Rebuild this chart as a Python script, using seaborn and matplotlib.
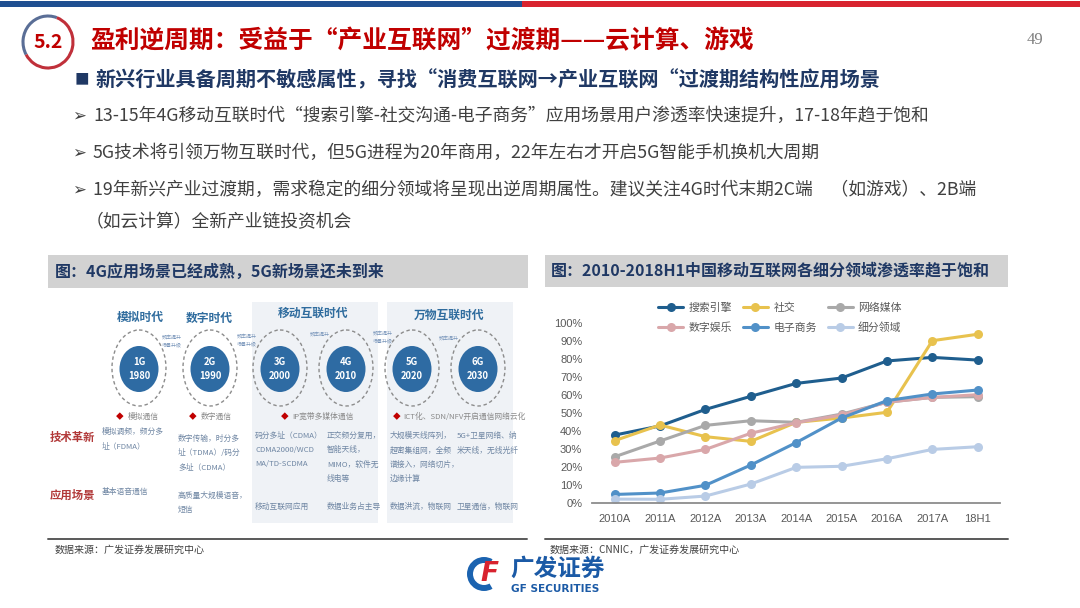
import numpy as np
import pandas as pd
import seaborn as sns
import matplotlib.pyplot as plt
from matplotlib.patches import Rectangle, Ellipse, Arc, Wedge
from matplotlib.lines import Line2D

# ---- right chart data (penetration rate, %) ----
years = ["2010A", "2011A", "2012A", "2013A", "2014A", "2015A", "2016A", "2017A", "18H1"]
search_engine = [37.7, 42.8, 52.0, 59.3, 66.5, 69.5, 79.0, 81.0, 79.5]
social = [34.6, 43.3, 36.8, 34.2, 44.8, 47.2, 50.4, 90.3, 93.9]
net_media = [25.6, 34.4, 43.1, 45.7, 44.8, 49.4, 56.0, 58.7, 59.1]
digital_ent = [22.5, 24.9, 29.7, 38.7, 44.6, 48.9, 56.0, 58.7, 60.2]
e_commerce = [4.6, 5.4, 9.7, 21.0, 33.5, 47.2, 56.9, 60.6, 62.8]
niche = [2.0, 1.9, 3.7, 10.4, 19.7, 20.3, 24.5, 29.7, 31.2]
series_names = ["搜索引擎", "社交", "网络媒体", "数字娱乐", "电子商务", "细分领域"]
series_colors = ["#1F5E8E", "#E8C24E", "#A9A9A9", "#D9A7AA", "#5191C8", "#B9CCE6"]

# ---- left diagram text ----
generations = ["1G", "2G", "3G", "4G", "5G", "6G"]
gen_years = ["1980", "1990", "2000", "2010", "2020", "2030"]
eras = ["模拟时代", "数字时代", "移动互联时代", "万物互联时代"]
comm_types = ["模拟通信", "数字通信", "IP宽带多媒体通信", "ICT化、SDN/NFV开启通信网络云化"]
tech_text = ["模拟调频，频分多\n址（FDMA）",
             "数字传输，时分多\n址（TDMA）/码分\n多址（CDMA）",
             "码分多址（CDMA）\nCDMA2000/WCD\nMA/TD-SCDMA",
             "正交频分复用，\n智能天线，\nMIMO，软件无\n线电等",
             "大规模天线阵列，\n超密集组网，全频\n谱接入，网络切片，\n边缘计算",
             "5G+卫星网络、纳\n米天线，无线光纤"]
app_text = ["基本语音通信", "高质量大规模语音，\n短信", "移动互联网应用",
            "数据业务占主导", "数据洪流，物联网", "卫星通信，物联网"]
bullets = ["13-15年4G移动互联时代“搜索引擎-社交沟通-电子商务”应用场景用户渗透率快速提升，17-18年趋于饱和",
           "5G技术将引领万物互联时代，但5G进程为20年商用，22年左右才开启5G智能手机换机大周期",
           "19年新兴产业过渡期，需求稳定的细分领域将呈现出逆周期属性。建议关注4G时代末期2C端　（如游戏）、2B端"]

sns.set_theme(style="white")
plt.rcParams['font.family'] = ['Noto Sans CJK SC', 'DejaVu Sans']

W, H = 1080, 608
fig = plt.figure(figsize=(10.8, 6.08), dpi=100)
bg = fig.add_axes([0, 0, 1, 1])
bg.set_xlim(0, W)
bg.set_ylim(H, 0)
bg.axis("off")

DARK = "#1F3864"
RED = "#C00000"

# top bar
bg.add_patch(Rectangle((0, 1), 522, 6, color="#1F4F91", lw=0))
bg.add_patch(Rectangle((522, 1), 558, 6, color="#D8232F", lw=0))

# section badge
bg.add_patch(Arc((48, 42), 50, 52, theta1=150, theta2=290, color="#5A6E96", lw=2.2))
bg.add_patch(Arc((48, 42), 50, 52, theta1=290, theta2=510, color="#C0303A", lw=2.2))
bg.text(48, 43, "5.2", color=RED, fontsize=14, fontweight="bold", ha="center", va="center")
bg.text(90, 41, "盈利逆周期：受益于“产业互联网”过渡期——云计算、游戏", color=RED,
        fontsize=17.8, fontweight="bold", va="center")
bg.text(1035, 40, "49", color="#7F7F7F", fontsize=12, family="Liberation Serif",
        ha="center", va="center")

# headline bullet
bg.text(75, 80, "■", color=DARK, fontsize=10.5, va="center")
bg.text(95, 80, "新兴行业具备周期不敏感属性，寻找“消费互联网→产业互联网“过渡期结构性应用场景",
        color=DARK, fontsize=14.5, fontweight="bold", va="center")

for txt, y in zip(bullets, [116, 153, 190]):
    bg.text(72, y, "➢", color="#404040", fontsize=12, family=["DejaVu Sans"], va="center")
    bg.text(93, y, txt, color="#404040", fontsize=12.8, va="center")
bg.text(86, 222, "（如云计算）全新产业链投资机会", color="#404040", fontsize=12.8, va="center")

# panel headers
bg.add_patch(Rectangle((48, 255), 480, 33, color="#D2D2D2", lw=0))
bg.text(55, 271.5, "图：4G应用场景已经成熟，5G新场景还未到来", color=DARK,
        fontsize=11.5, fontweight="bold", va="center")
bg.add_patch(Rectangle((545, 255), 463, 32, color="#D2D2D2", lw=0))
bg.text(551, 271, "图：2010-2018H1中国移动互联网各细分领域渗透率趋于饱和", color=DARK,
        fontsize=11.5, fontweight="bold", va="center")

# bottom rules + sources
bg.plot([48, 527], [539, 539], color="#595959", lw=1.4)
bg.plot([545, 1008], [539, 539], color="#595959", lw=1.4)
bg.text(55, 550, "数据来源：广发证券发展研究中心", color="#404040", fontsize=7.2, va="center")
bg.text(550, 550, "数据来源：CNNIC，广发证券发展研究中心", color="#404040", fontsize=7.2, va="center")

# logo
bg.add_patch(Wedge((484, 574), 17, 60, 300, width=6, color="#1B63B0", lw=0))
bg.text(489, 574, "F", color="#D8232F", fontsize=19, fontweight="bold", style="italic",
        ha="center", va="center", family="DejaVu Sans")
bg.text(510, 569, "广发证券", color="#1B5AA6", fontsize=17, fontweight="bold", va="center")
bg.text(511, 589, "GF SECURITIES", color="#1B5AA6", fontsize=7.6, fontweight="bold",
        va="center", family="DejaVu Sans")

# ---- left diagram ----
BLUE_TXT = "#2F6C9E"
GRAY_TXT = "#6F86A3"
bg.add_patch(Rectangle((252, 302), 126, 221, color="#EFF2F6", lw=0))
bg.add_patch(Rectangle((387, 302), 126, 221, color="#EFF2F6", lw=0))

circle_x = [139, 210, 280, 346, 412, 478]
for cx, g, yr in zip(circle_x, generations, gen_years):
    bg.add_patch(Ellipse((cx, 368), 54, 76, fill=False, ec="#8C8C8C", lw=1.0, ls=(0, (2.5, 2))))
    bg.add_patch(Ellipse((cx, 369), 39, 46, color="#2E6BA3", lw=0))
    bg.text(cx, 362, g, color="white", fontsize=6.8, fontweight="bold", ha="center", va="center")
    bg.text(cx, 376, yr, color="white", fontsize=6.8, fontweight="bold", ha="center", va="center")

for (ex, ey), era in zip([(140, 317), (209, 318), (313, 313), (449, 315)], eras):
    bg.text(ex, ey, era, color=BLUE_TXT, fontsize=8.5, fontweight="bold", ha="center", va="center")

for cx, cy, t in [(172, 341, "频率提升\n场景升级"), (247, 340, "频率提升\n场景升级"),
                  (320, 334, "频率提升"), (383, 337, "频率提升\n场景升级"), (449, 338, "频率提升")]:
    bg.text(cx, cy, t, color="#7895BA", fontsize=3.6, ha="center", va="center", linespacing=1.5)

for (dx, tx), t in zip([(120, 128), (193, 201), (285, 292), (397, 403)], comm_types):
    bg.text(dx, 417, "◆", color=RED, fontsize=5.5, ha="center", va="center")
    bg.text(tx, 417, t, color="#8A8A8A", fontsize=5.6, va="center")

bg.text(50, 437, "技术革新", color="#B23A3A", fontsize=8.2, fontweight="bold", va="center")
bg.text(50, 495, "应用场景", color="#B23A3A", fontsize=8.2, fontweight="bold", va="center")

col_x = [102, 178, 255, 327, 390, 457]
tech_top = [428, 435, 432, 432, 432, 432]
for x, top, t in zip(col_x, tech_top, tech_text):
    bg.text(x, top, t, color=GRAY_TXT, fontsize=5.6, va="top", linespacing=2.0)
app_top = [488, 492, 503, 503, 503, 503]
for x, top, t in zip(col_x, app_top, app_text):
    bg.text(x, top, t, color=GRAY_TXT, fontsize=5.6, va="top", linespacing=2.0)

# ---- right chart ----
df = pd.DataFrame({"year": years * 6,
                   "value": search_engine + social + net_media + digital_ent + e_commerce + niche,
                   "series": sum([[n] * len(years) for n in series_names], [])})

ax = fig.add_axes([592 / W, 1 - 502.7 / H, 408.4 / W, 179.4 / H])
ax.patch.set_alpha(0)
sns.lineplot(data=df, x="year", y="value", hue="series", hue_order=series_names,
             palette=series_colors, marker="o", markersize=6.5, markeredgewidth=0,
             linewidth=2.2, sort=False, legend=False, ax=ax)
ax.set_xlim(-0.5, 8.5)
ax.set_ylim(0, 100)
ax.set_yticks(np.arange(0, 101, 10))
ax.set_yticklabels([f"{v}%" for v in range(0, 101, 10)])
ax.set_xticks(range(len(years)))
ax.set_xticklabels(years)
ax.set_xticks(np.arange(-0.5, 9, 1), minor=True)
ax.set_xlabel("")
ax.set_ylabel("")
for s in ["left", "top", "right"]:
    ax.spines[s].set_visible(False)
ax.spines["bottom"].set_color("#8C8C8C")
ax.spines["bottom"].set_linewidth(1.3)
ax.tick_params(axis="y", length=0, pad=7, labelsize=8, labelcolor="#595959")
ax.tick_params(axis="x", which="major", length=0, pad=8, labelsize=8, labelcolor="#595959")
ax.tick_params(axis="x", which="minor", length=4, width=1, color="#8C8C8C", direction="out")
for lab in ax.get_xticklabels() + ax.get_yticklabels():
    lab.set_family("Liberation Sans")
ax.grid(False)

handles = [Line2D([0], [0], color=c, lw=2.2, marker="o", markersize=6.5, markeredgewidth=0)
           for c in series_colors]
order = [0, 3, 1, 4, 2, 5]
ax.legend([handles[i] for i in order], [series_names[i] for i in order], ncol=3,
          loc="upper center", bbox_to_anchor=(0.46, 1.115), frameon=False,
          fontsize=7.8, handlelength=2.3, handletextpad=0.5, columnspacing=1.0,
          labelspacing=0.85, borderpad=0, borderaxespad=0, labelcolor="#595959")

fig.savefig("out.png", dpi=100)
